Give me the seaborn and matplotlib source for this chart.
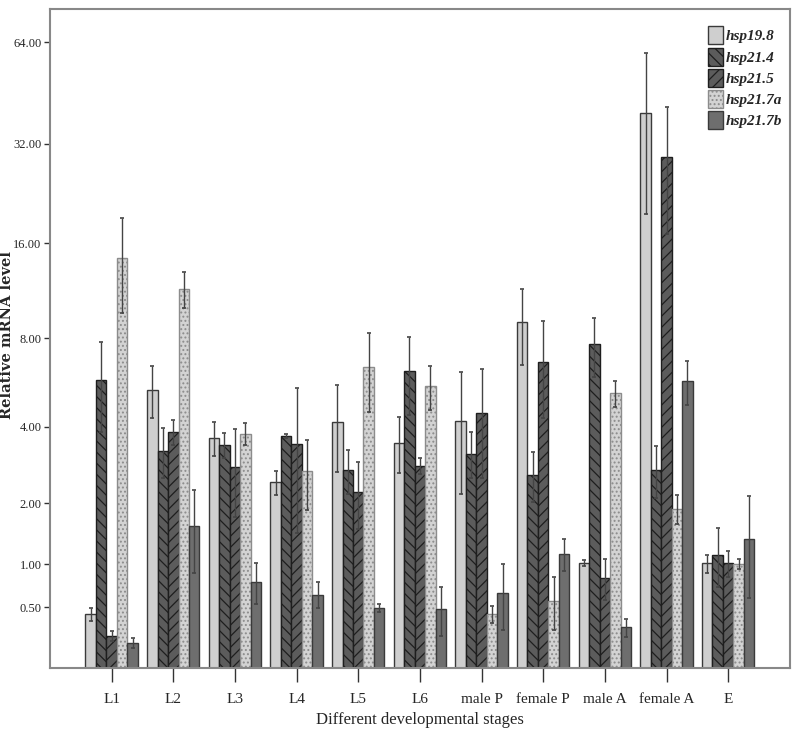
import numpy as np
import pandas as pd
import matplotlib
matplotlib.use("Agg")
import matplotlib.pyplot as plt
from matplotlib.patches import Patch
import seaborn as sns

# stages on the x axis
stages = ['L1', 'L2', 'L3', 'L4', 'L5', 'L6', 'male P', 'female P',
          'male A', 'female A', 'E']
genes = ['hsp19.8', 'hsp21.4', 'hsp21.5', 'hsp21.7a', 'hsp21.7b']

# mean relative mRNA level per gene
hsp19_8 = [0.43, 5.38, 3.64, 2.45, 4.15, 3.49, 4.19, 9.06, 1.01, 39.6, 1.01]
hsp21_4 = [5.82, 3.25, 3.42, 3.70, 2.74, 6.25, 3.18, 2.62, 7.65, 2.75, 1.13]
hsp21_5 = [0.24, 3.83, 2.83, 3.46, 2.24, 2.85, 4.46, 6.70, 0.82, 29.1, 1.01]
hsp21_7a = [14.4, 11.5, 3.76, 2.72, 6.42, 5.55, 0.43, 0.56, 5.24, 1.89, 1.00]
hsp21_7b = [0.18, 1.58, 0.77, 0.63, 0.49, 0.48, 0.645, 1.14, 0.31, 5.76, 1.37]

# error bar half-lengths (SD)
sd19_8 = [0.06, 1.1, 0.53, 0.27, 1.45, 0.83, 2.0, 2.5, 0.04, 20.0, 0.12]
sd21_4 = [2.0, 0.7, 0.36, 0.05, 0.54, 1.85, 0.63, 0.6, 1.7, 0.65, 0.41]
sd21_5 = [0.04, 0.4, 1.1, 2.0, 0.72, 0.2, 1.9, 2.4, 0.25, 12.0, 0.17]
sd21_7a = [4.7, 1.5, 0.35, 0.86, 1.9, 0.96, 0.08, 0.27, 0.55, 0.28, 0.07]
sd21_7b = [0.04, 0.7, 0.24, 0.14, 0.04, 0.24, 0.36, 0.23, 0.08, 1.0, 0.78]

y_ticks = [0.5, 1, 2, 4, 8, 16, 32, 64]

means = [hsp19_8, hsp21_4, hsp21_5, hsp21_7a, hsp21_7b]
sds = [sd19_8, sd21_4, sd21_5, sd21_7a, sd21_7b]

rows = []
for g, m, s in zip(genes, means, sds):
    for st, v, e in zip(stages, m, s):
        rows.append({'stage': st, 'gene': g, 'level': v, 'sd': e})
df = pd.DataFrame(rows)

sns.set_style("white")
plt.rcParams['font.family'] = ['Liberation Serif', 'DejaVu Serif']
plt.rcParams['hatch.linewidth'] = 0.9

face = ['#cfcfcf', '#5c5c5c', '#5c5c5c', '#d3d3d3', '#6e6e6e']
hatches = [None, '\\\\\\', '///', '....', None]
edges = ['#3a3a3a', '#1e1e1e', '#1e1e1e', '#8c8c8c', '#3a3a3a']

fig = plt.figure(figsize=(7.93, 7.33), dpi=100)
ax = fig.add_axes([0.063, 0.0887, 0.933, 0.899])

fwd = lambda y: np.log2(np.clip(np.asarray(y, dtype=float) + 1, 1e-6, None))
inv = lambda y: 2.0 ** np.asarray(y, dtype=float) - 1
ax.set_yscale('function', functions=(fwd, inv))

sns.barplot(data=df, x='stage', y='level', hue='gene', order=stages,
            hue_order=genes, palette=face, width=0.85, errorbar=None,
            ax=ax, saturation=1, legend=False)

bar_conts = list(ax.containers)
for i, cont in enumerate(bar_conts):
    xs = []
    for p in cont.patches:
        p.set_edgecolor(edges[i])
        p.set_linewidth(1.0)
        if hatches[i]:
            p.set_hatch(hatches[i])
        xs.append(p.get_x() + p.get_width() / 2)
    sub = df[df['gene'] == genes[i]]
    ax.errorbar(xs, sub['level'].values, yerr=sub['sd'].values, fmt='none',
                ecolor='#444444', elinewidth=1.0, capsize=1.5, capthick=1.2)

ax.set_ylim(0, 80)
ax.set_xlim(-1, 11)
ax.set_yticks(y_ticks)
ax.set_yticklabels([f'{t:.2f}' for t in y_ticks])
ax.minorticks_off()
ax.tick_params(axis='y', length=4, width=1, color='#333333', labelsize=9, pad=2, left=True)
ax.tick_params(axis='x', length=10, width=1, color='#333333', labelsize=11, pad=8, bottom=True)

for s in ax.spines.values():
    s.set_color('#888888')
    s.set_linewidth(1.5)

ax.set_ylabel('Relative mRNA level', fontsize=10.5, fontweight='bold',
              family=['DejaVu Serif'])
ax.yaxis.set_label_coords(-0.049, 0.505)
ax.set_xlabel('Different developmental stages', fontsize=12, labelpad=4)

handles = [Patch(facecolor=face[i], edgecolor=edges[i], hatch=hatches[i],
                 linewidth=1.0, label=genes[i]) for i in range(len(genes))]
leg = ax.legend(handles=handles, loc='upper right', frameon=False, fontsize=11,
                handlelength=1.0, handleheight=1.45, labelspacing=0.2,
                handletextpad=0.2, borderaxespad=0,
                bbox_to_anchor=(0.998, 0.983))
for t in leg.get_texts():
    t.set_fontstyle('italic')
    t.set_fontweight('bold')

fig.savefig('out.png', dpi=100)
